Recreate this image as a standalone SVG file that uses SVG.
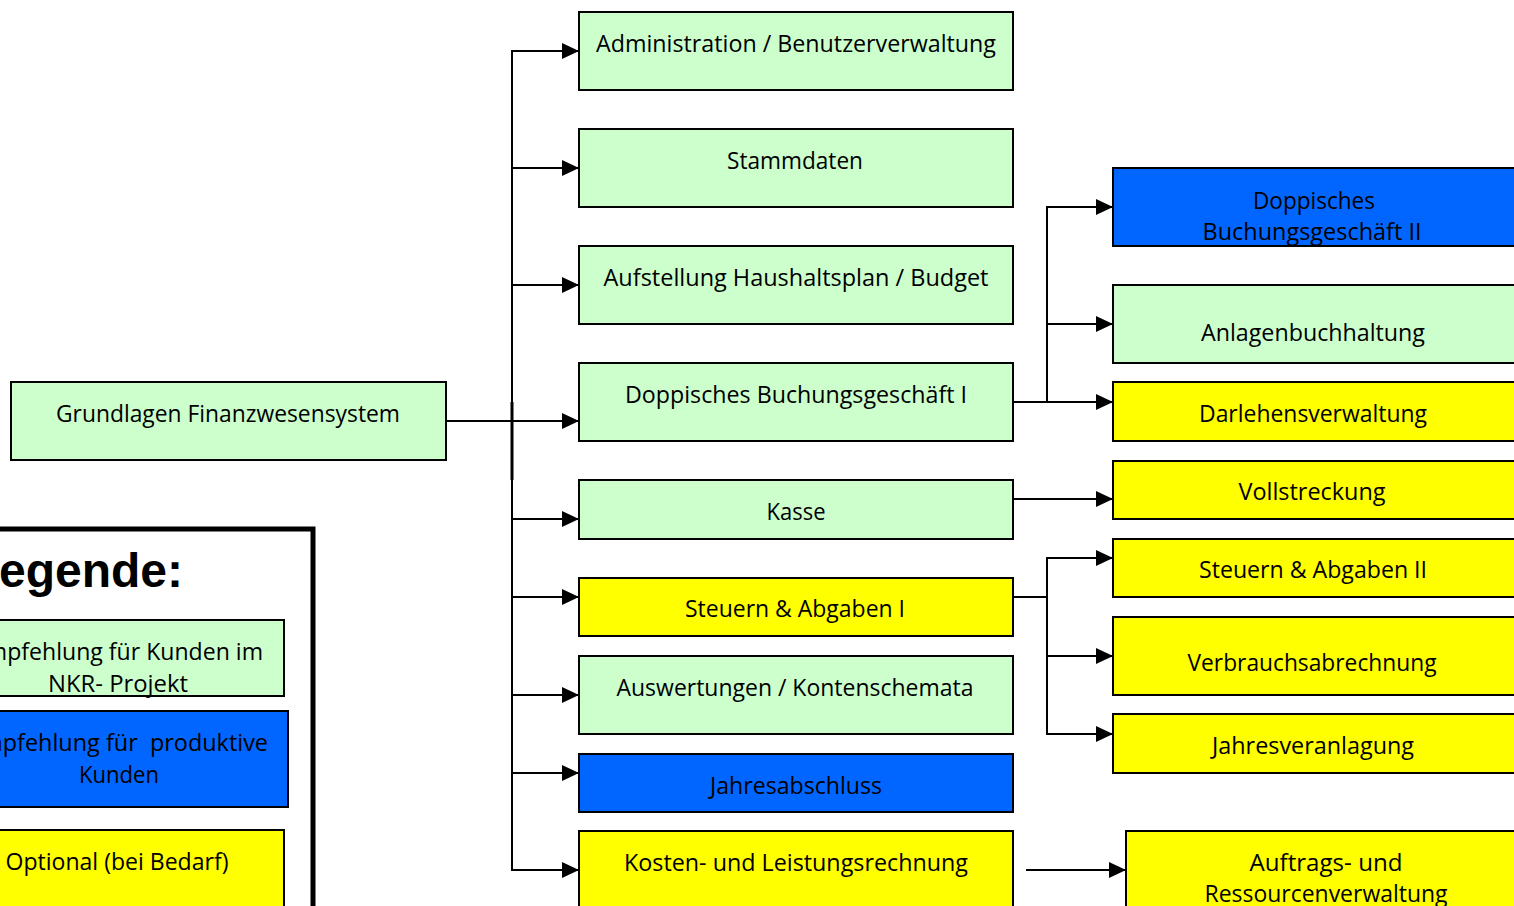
<svg xmlns="http://www.w3.org/2000/svg" width="1514" height="906" viewBox="0 0 1514 906">
<style>
rect.n{stroke:#000;stroke-width:2}
.g{fill:#CCFFCC}
.y{fill:#FFFF00}
.b{fill:#0066FF;stroke-width:3.5}
text{font-family:"Open Sans","Noto Sans",sans-serif;font-size:24px;fill:#000;text-anchor:middle}
.c line{stroke:#000;stroke-width:2}
</style>
<defs>
<marker id="ah" markerUnits="userSpaceOnUse" markerWidth="18" markerHeight="17" refX="17" refY="8" orient="auto">
<path d="M0,0 L17,8 L0,16 z" fill="#000"/>
</marker>
</defs>
<rect width="1514" height="906" fill="#fff"/>

<g id="legend">
<rect x="-20" y="529" width="333" height="400" fill="#fff" stroke="#000" stroke-width="5"/>
<text x="183" y="587" style="font-family:'Liberation Sans',Arial,sans-serif;font-weight:bold;font-size:48px;text-anchor:end">Legende:</text>
<rect class="n g" x="-48" y="620" width="332" height="76"/>
<text x="118" y="660" textLength="290" lengthAdjust="spacingAndGlyphs">Empfehlung für Kunden im</text>
<text x="118" y="692" textLength="140" lengthAdjust="spacingAndGlyphs">NKR- Projekt</text>
<rect class="n b" x="-48" y="711" width="336" height="96"/>
<text x="118" y="751" textLength="300" lengthAdjust="spacingAndGlyphs">Empfehlung für&#160; produktive</text>
<text x="119" y="783" textLength="80" lengthAdjust="spacingAndGlyphs">Kunden</text>
<rect class="n y" x="-48" y="830" width="332" height="90"/>
<text x="117" y="870" textLength="223" lengthAdjust="spacingAndGlyphs">Optional (bei Bedarf)</text>
</g>

<g class="c" id="connectors">
<line x1="446" y1="421" x2="579" y2="421" marker-end="url(#ah)"/>
<line x1="512" y1="50" x2="512" y2="871"/>
<line x1="512" y1="402" x2="512" y2="480" style="stroke-width:3"/>
<line x1="511" y1="51" x2="579" y2="51" marker-end="url(#ah)"/>
<line x1="511" y1="168" x2="579" y2="168" marker-end="url(#ah)"/>
<line x1="511" y1="285" x2="579" y2="285" marker-end="url(#ah)"/>
<line x1="511" y1="519" x2="579" y2="519" marker-end="url(#ah)"/>
<line x1="511" y1="597" x2="579" y2="597" marker-end="url(#ah)"/>
<line x1="511" y1="695" x2="579" y2="695" marker-end="url(#ah)"/>
<line x1="511" y1="773" x2="579" y2="773" marker-end="url(#ah)"/>
<line x1="511" y1="870" x2="579" y2="870" marker-end="url(#ah)"/>
<line x1="1013" y1="402" x2="1113" y2="402" marker-end="url(#ah)"/>
<line x1="1047" y1="206" x2="1047" y2="403"/>
<line x1="1046" y1="207" x2="1113" y2="207" marker-end="url(#ah)"/>
<line x1="1046" y1="324" x2="1113" y2="324" marker-end="url(#ah)"/>
<line x1="1013" y1="499" x2="1113" y2="499" marker-end="url(#ah)"/>
<line x1="1013" y1="597" x2="1047" y2="597"/>
<line x1="1047" y1="557" x2="1047" y2="735"/>
<line x1="1046" y1="558" x2="1113" y2="558" marker-end="url(#ah)"/>
<line x1="1046" y1="656" x2="1113" y2="656" marker-end="url(#ah)"/>
<line x1="1046" y1="734" x2="1113" y2="734" marker-end="url(#ah)"/>
<line x1="1026" y1="870" x2="1126" y2="870" marker-end="url(#ah)"/>
</g>

<g id="grundlagen"><rect class="n g" x="11" y="382" width="435" height="78"/><text x="228" y="422" textLength="344" lengthAdjust="spacingAndGlyphs">Grundlagen Finanzwesensystem</text></g>

<g id="admin"><rect class="n g" x="579" y="12" width="434" height="78"/><text x="796" y="52" textLength="400" lengthAdjust="spacingAndGlyphs">Administration / Benutzerverwaltung</text></g>
<g id="stammdaten"><rect class="n g" x="579" y="129" width="434" height="78"/><text x="795" y="169" textLength="136" lengthAdjust="spacingAndGlyphs">Stammdaten</text></g>
<g id="aufstellung"><rect class="n g" x="579" y="246" width="434" height="78"/><text x="796" y="286" textLength="385" lengthAdjust="spacingAndGlyphs">Aufstellung Haushaltsplan / Budget</text></g>
<g id="doppisch1"><rect class="n g" x="579" y="363" width="434" height="78"/><text x="796" y="403" textLength="342" lengthAdjust="spacingAndGlyphs">Doppisches Buchungsgeschäft I</text></g>
<g id="kasse"><rect class="n g" x="579" y="480" width="434" height="59"/><text x="796" y="520" textLength="59" lengthAdjust="spacingAndGlyphs">Kasse</text></g>
<g id="steuern1"><rect class="n y" x="579" y="578" width="434" height="58"/><text x="795" y="617" textLength="220" lengthAdjust="spacingAndGlyphs">Steuern &amp; Abgaben I</text></g>
<g id="auswertungen"><rect class="n g" x="579" y="656" width="434" height="78"/><text x="795" y="696" textLength="357" lengthAdjust="spacingAndGlyphs">Auswertungen / Kontenschemata</text></g>
<g id="jahresabschluss"><rect class="n b" x="579" y="754" width="434" height="58"/><text x="796" y="794" textLength="172" lengthAdjust="spacingAndGlyphs">Jahresabschluss</text></g>
<g id="kosten"><rect class="n y" x="579" y="831" width="434" height="90"/><text x="796" y="871" textLength="344" lengthAdjust="spacingAndGlyphs">Kosten- und Leistungsrechnung</text></g>

<g id="doppisch2"><rect class="n b" x="1113" y="168" width="410" height="78"/><text x="1314" y="209" textLength="122" lengthAdjust="spacingAndGlyphs">Doppisches</text><text x="1312" y="240" textLength="219" lengthAdjust="spacingAndGlyphs">Buchungsgeschäft II</text></g>
<g id="anlagen"><rect class="n g" x="1113" y="285" width="410" height="78"/><text x="1313" y="341" textLength="224" lengthAdjust="spacingAndGlyphs">Anlagenbuchhaltung</text></g>
<g id="darlehen"><rect class="n y" x="1113" y="382" width="410" height="59"/><text x="1313" y="422" textLength="228" lengthAdjust="spacingAndGlyphs">Darlehensverwaltung</text></g>
<g id="vollstreckung"><rect class="n y" x="1113" y="461" width="410" height="58"/><text x="1312" y="500" textLength="147" lengthAdjust="spacingAndGlyphs">Vollstreckung</text></g>
<g id="steuern2"><rect class="n y" x="1113" y="539" width="410" height="58"/><text x="1313" y="578" textLength="228" lengthAdjust="spacingAndGlyphs">Steuern &amp; Abgaben II</text></g>
<g id="verbrauch"><rect class="n y" x="1113" y="617" width="410" height="78"/><text x="1312" y="671" textLength="249" lengthAdjust="spacingAndGlyphs">Verbrauchsabrechnung</text></g>
<g id="jahresveranlagung"><rect class="n y" x="1113" y="714" width="410" height="59"/><text x="1313" y="754" textLength="202" lengthAdjust="spacingAndGlyphs">Jahresveranlagung</text></g>
<g id="auftrags"><rect class="n y" x="1126" y="831" width="400" height="90"/><text x="1326" y="871" textLength="153" lengthAdjust="spacingAndGlyphs">Auftrags- und</text><text x="1326" y="902" textLength="243" lengthAdjust="spacingAndGlyphs">Ressourcenverwaltung</text></g>
</svg>
